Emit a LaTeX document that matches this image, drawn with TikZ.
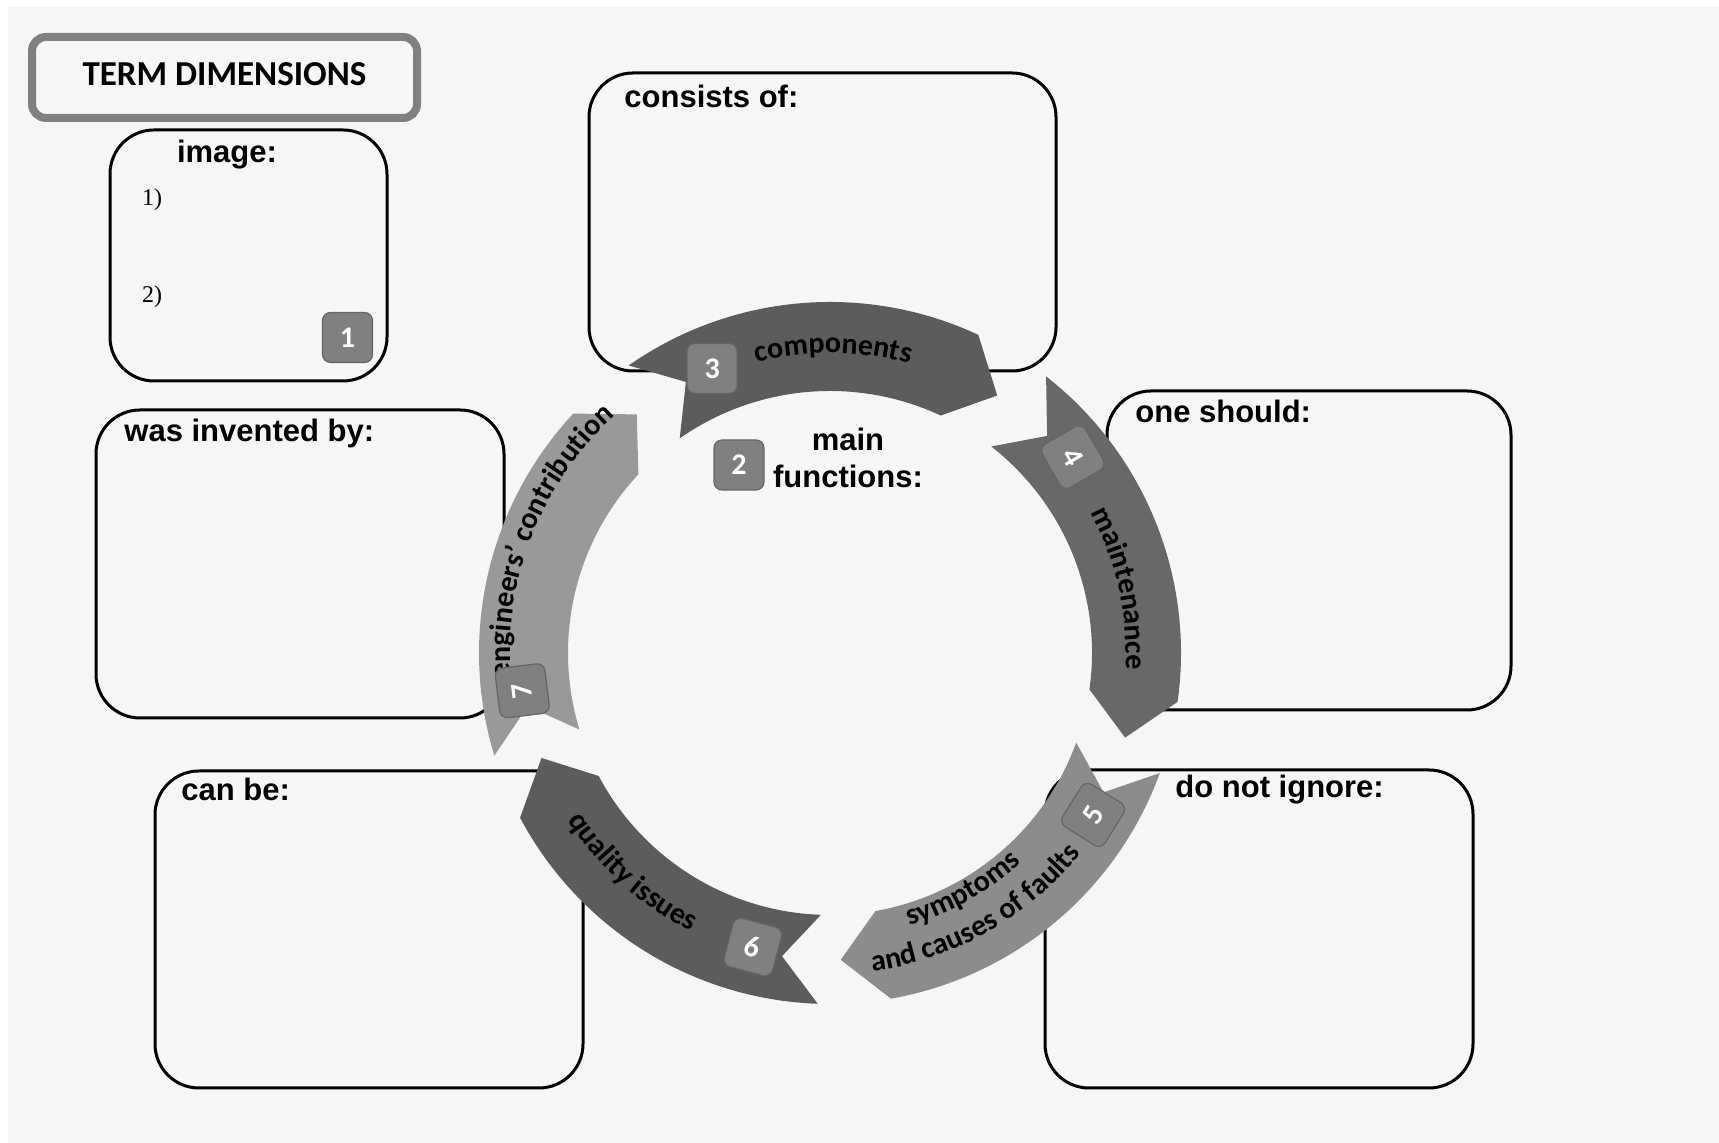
\documentclass[tikz,border=0pt]{standalone}
\usepackage{fontspec}
\newfontfamily\liberationsans{Liberation Sans}
\newfontfamily\liberationserif{Liberation Serif}
\newfontfamily\carlito{Carlito}
\usetikzlibrary{decorations.text}
\definecolor{pagebg}{HTML}{F6F6F6}
\definecolor{titleframe}{HTML}{808080}
\definecolor{badgefill}{HTML}{808080}
\definecolor{badgeline}{HTML}{656565}
\definecolor{arrowdark}{HTML}{5C5C5C}
\definecolor{arrowmid}{HTML}{686868}
\definecolor{arrowlight}{HTML}{8C8C8C}
\definecolor{arrowpale}{HTML}{999999}
\newcommand{\boxlabelfont}{\liberationsans\bfseries\fontsize{15.5}{18.5}\selectfont}
\newcommand{\ringfont}{\carlito\bfseries\fontsize{15}{18}\selectfont}
\tikzset{
  infobox/.style={draw, line width=1.5pt, rounded corners=22pt, inner sep=0pt},
  boxlabel/.style={anchor=west, inner sep=0pt, font=\boxlabelfont},
  listnum/.style={inner sep=0pt, font=\liberationserif\fontsize{12}{14}\selectfont},
  badge/.style={fill=badgefill, draw=badgeline, line width=0.6pt, rounded corners=4pt,
    minimum size=25pt, inner sep=0pt, text=white, font=\carlito\bfseries\fontsize{15}{18}\selectfont},
  ringtext/.style={decorate, decoration={text along path, text align=center, text={|\ringfont|#1}}}
}

\begin{document}
\begin{tikzpicture}[x=0.5pt, y=0.5pt]
  \useasboundingbox (0,0) rectangle (1719,1143);
  \fill[white] (0,0) rectangle (1719,1143);
  \fill[pagebg] (8,0) rectangle (1719,1137);

  % title and the boxes round the ring
  \node[draw=titleframe, line width=4pt, rounded corners=7pt, minimum width=192.5pt, minimum height=40.5pt,
    font=\carlito\bfseries\fontsize{17.5}{20}\selectfont] (title) at (224.5,1065.5)
    {\raisebox{1.6pt}[\height]{TERM DIMENSIONS}};

  \node[infobox, minimum width=138.5pt, minimum height=125.5pt] (image) at (248.5,887.5) {};
  \node[infobox, minimum width=233.5pt, minimum height=149pt] (consists) at (822.5,921) {};
  \node[infobox, minimum width=204pt, minimum height=154pt] (invented) at (300,579) {};
  \node[infobox, minimum width=202pt, minimum height=159.5pt] (should) at (1309,592.5) {};
  \node[infobox, minimum width=214pt, minimum height=158.5pt] (canbe) at (369,213.5) {};
  \node[infobox, minimum width=214pt, minimum height=159pt] (ignore) at (1259,214) {};

  \node[boxlabel, anchor=center] (imagelbl) at (227,988) {image:};
  \node[listnum] (one) at (152,943) {1)};
  \node[listnum] (two) at (152,846) {2)};
  \node[badge] (b1) at (347.5,805.5) {1};

  \node[boxlabel] (consistslbl) at (624,1046.5) {consists of:};
  \node[boxlabel] (inventedlbl) at (124,709) {was invented by:};
  \node[boxlabel] (shouldlbl) at (1135,732) {one should:};
  \node[boxlabel] (canbelbl) at (181,354) {can be:};
  \node[boxlabel] (ignorelbl) at (1175,353) {do not ignore:};

  % ring of arrows
  \begin{scope}[shift={(830,490)}]
    \foreach \t/\c in {125/arrowdark, 52/arrowmid, -20/arrowlight, -92/arrowdark, -163/arrowpale}
      \fill[\c] (\t:351) arc[start angle=\t, end angle=\t-60, radius=351] -- ({\t-68}:307)
        -- ({\t-60}:262) arc[start angle=\t-60, end angle=\t, radius=262] -- ({\t-7}:307) -- cycle;

    \path[ringtext=components] (124.4:300) arc[start angle=124.4, end angle=54.4, radius=300];
    \path[ringtext=maintenance] (47.6:296) arc[start angle=47.6, end angle=-22.4, radius=296];
    \path[ringtext=symptoms] (-100.7:284) arc[start angle=-100.7, end angle=-20.7, radius=284];
    \path[ringtext=and causes of faults] (-100.5:321) arc[start angle=-100.5, end angle=-20.5, radius=321];
    \path[ringtext=quality issues] (-172:311) arc[start angle=-172, end angle=-92, radius=311];
    \path[ringtext=engineers’ contribution] (198.3:320) arc[start angle=198.3, end angle=118.3, radius=320];

    \node[badge] (b3) at (112.5:308) {3};
    \node[badge, rotate=-60] (b4) at (38.9:312) {4};
    \node[badge, rotate=58] (b5) at (-31.6:309) {5};
    \node[badge, rotate=-15] (b6) at (-104.7:304) {6};
    \node[badge, rotate=97] (b7) at (-173:310) {7};
  \end{scope}

  \node[badge] (b2) at (739,678) {2};
  \node[font=\boxlabelfont, align=center, inner sep=0pt] (mainfn) at (848,685) {main\\functions:};
\end{tikzpicture}
\end{document}
